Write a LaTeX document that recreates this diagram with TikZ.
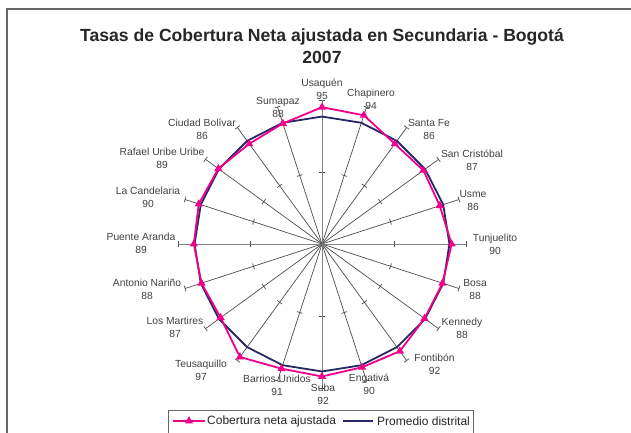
\documentclass[tikz,border=0pt]{standalone}
\usepackage{fontspec}
\setmainfont{Liberation Sans}
\usetikzlibrary{calc,shapes.geometric}
\definecolor{cpink}{RGB}{240,0,140}
\definecolor{cnavy}{RGB}{40,40,100}
\definecolor{ctext}{RGB}{64,64,64}
\begin{document}
\begin{tikzpicture}[x=1pt,y=-1pt,
  frame/.style={draw=black!60,line width=1.2pt},
  spoke/.style={draw=black!70,line width=0.7pt},
  axisspoke/.style={draw=black!50,line width=1pt},
  tickln/.style={draw=black!70,line width=0.7pt},
  pinkline/.style={draw=cpink,line width=1.8pt,line join=round},
  navyline/.style={draw=cnavy,line width=1.8pt,line join=round},
  tri/.style={regular polygon,regular polygon sides=3,fill=cpink,inner sep=0pt,minimum size=9.5pt},
  lbl/.style={align=center,inner sep=0pt,text=ctext,font=\fontsize{10.3}{13}\selectfont},
  legtxt/.style={anchor=west,inner sep=0pt,text=black!85,font=\fontsize{12}{14}\selectfont},
  legbox/.style={draw=black!60,line width=0.8pt},
  ttl/.style={align=center,inner sep=0pt,text=black!85,font=\fontsize{17.6}{22}\selectfont\bfseries}]
\useasboundingbox (0,0) rectangle (631,432);
\clip (0,0) rectangle (631,432);
\draw[frame] (7,9) rectangle (650,450);
\node[ttl] (title) at (322,46) {Tasas de Cobertura Neta ajustada en Secundaria - Bogotá\\2007};
\coordinate (C) at (322,244);
% spokes and ticks
\foreach \k in {0,...,19}{
  \pgfmathsetmacro{\a}{18*\k-90}
  \coordinate (e\k) at ($(C)+(\a:144)$);
  \coordinate (m\k) at ($(C)+(\a:72)$);
  \draw[spoke] (C) -- (e\k);
  \draw[tickln] ($(e\k)+(\a+90:3)$) -- ($(e\k)+(\a-90:3)$);
  \draw[tickln] ($(m\k)+(\a+90:3)$) -- ($(m\k)+(\a-90:3)$);
}
\foreach \k in {0,5,10,15}{ \draw[axisspoke] (C) -- (e\k); }
% data
\foreach \k/\v in {0/95,1/94,2/86,3/87,4/86,5/90,6/88,7/88,8/92,9/90,10/92,11/91,12/97,13/87,14/88,15/89,16/90,17/89,18/86,19/88}{
  \pgfmathsetmacro{\a}{18*\k-90}
  \coordinate (p\k) at ($(C)+(\a:1.44*\v)$);
  \coordinate (q\k) at ($(C)+(\a:1.44*88.5)$);
}
\draw[navyline] (q0) \foreach \k in {1,...,19}{ -- (q\k)} -- cycle;
\draw[pinkline] (p0) \foreach \k in {1,...,19}{ -- (p\k)} -- cycle;
\foreach \k in {0,...,19}{ \node[tri] (t\k) at (p\k) {}; }
% labels
\foreach \k/\v/\lx/\ly/\nm in {0/95/322/89/Usaquén,1/94/371/99/Chapinero,2/86/429/129.5/Santa Fe,3/87/472/160/San Cristóbal,4/86/473/200/Usme,5/90/495/244/Tunjuelito,6/88/475/289/Bosa,7/88/462/328/Kennedy,8/92/434.5/364.5/Fontibón,9/90/369/384/Engativá,10/92/323/394/Suba,11/91/277/385/Barrios Unidos,12/97/201/370.5/Teusaquillo,13/87/175/327/Los Martires,14/88/147/289/Antonio Nariño,15/89/141/243.5/Puente Aranda,16/90/148/197.5/La Candelaria,17/89/162/158.5/Rafael Uribe Uribe,18/86/202/129.5/Ciudad Bolívar,19/88/278/107/Sumapaz}{
  \node[lbl] (l\k) at (\lx,\ly) {\nm\\\v};
}
% legend
\draw[legbox] (168,410) rectangle (473,450);
\coordinate (la) at (173,421);
\coordinate (lb) at (205,421);
\draw[pinkline] (la) -- (lb);
\node[tri] (lt) at ($(la)!0.5!(lb)$) {};
\node[legtxt] (lg1) at (207,421) {Cobertura neta ajustada};
\coordinate (lc) at (343,421);
\coordinate (ld) at (373,421);
\draw[navyline] (lc) -- (ld);
\node[legtxt] (lg2) at (377,421) {Promedio distrital};
\end{tikzpicture}
\end{document}
